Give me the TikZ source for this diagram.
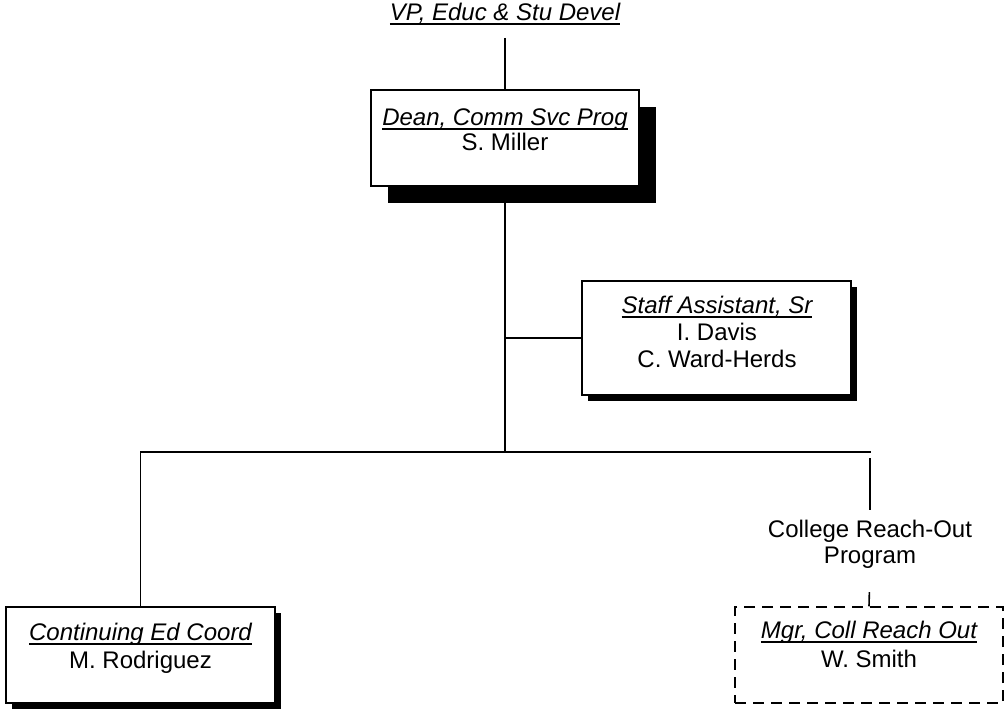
\documentclass[tikz,border=0pt]{standalone}
\usepackage{fontspec}
\setmainfont{Liberation Sans}
\usetikzlibrary{backgrounds,shadows}
\newcommand\myul[1]{\setbox0\hbox{#1}\rlap{\rule[-4.6pt]{\wd0}{1.4pt}}\box0}
\begin{document}
\begin{tikzpicture}[x=1pt,y=-1pt,
  font=\fontsize{24}{26}\selectfont,
  box/.style={draw, line width=1.8pt, fill=white, inner sep=0pt},
  bigshadow/.style={drop shadow={shadow xshift=17pt, shadow yshift=-17pt, fill=black, opacity=1}},
  smallshadow/.style={drop shadow={shadow xshift=6pt, shadow yshift=-6pt, fill=black, opacity=1}},
  dashbox/.style={draw, line width=1.5pt, dash pattern=on 11pt off 7pt, fill=white, inner sep=0pt},
  lbl/.style={anchor=base, inner sep=0pt},
  conn/.style={line width=1.6pt}]
\useasboundingbox (0,0) rectangle (1005,710);

% boxes
\node[box, bigshadow, minimum width=268pt, minimum height=96pt] (dean) at (505,138) {};
\node[box, smallshadow, minimum width=269pt, minimum height=114pt] (staff) at (716.5,338) {};
\node[box, smallshadow, minimum width=269pt, minimum height=96pt] (cont) at (140.5,655) {};
\node[dashbox, minimum width=268pt, minimum height=96pt] (mgr) at (869,655) {};

% texts
\node[lbl] (vp) at (505,20) {\textit{\myul{VP, Educ \& Stu Devel}}};
\node[lbl] (deant) at (505,125) {\textit{\myul{Dean, Comm Svc Prog}}};
\node[lbl] (deann) at (505,150) {S. Miller};
\node[lbl] (stafft) at (717,313) {\textit{\myul{Staff Assistant, Sr}}};
\node[lbl] (staffn1) at (717,340) {I. Davis};
\node[lbl] (staffn2) at (717,367) {C. Ward-Herds};
\node[lbl] (contt) at (140.5,640) {\textit{\myul{Continuing Ed Coord}}};
\node[lbl] (contn) at (140.5,668) {M. Rodriguez};
\node[lbl] (mgrt) at (869,638) {\textit{\myul{Mgr, Coll Reach Out}}};
\node[lbl] (mgrn) at (869,667) {W. Smith};
\node[lbl] (crp1) at (870,537) {College Reach-Out};
\node[lbl] (crp2) at (870,563) {Program};

% junctions
\coordinate (j1) at (dean.south |- staff.west);
\coordinate (j2) at (505,452);
\coordinate (jr) at (870,452);

\begin{scope}[on background layer]
\draw[conn, shorten <=13pt] (vp.south) -- (dean.north);
\draw[conn] (dean.south) -- (j2);
\draw[conn] (j1) -- (staff.west);
\draw[conn] (cont.north) |- ([xshift=1pt]jr);
\draw[conn, shorten <=6pt, shorten >=9pt] (jr) -- (crp1.north);
\draw[conn, shorten <=24pt] (crp2.south) -- (mgr.north);
\end{scope}
\end{tikzpicture}
\end{document}
